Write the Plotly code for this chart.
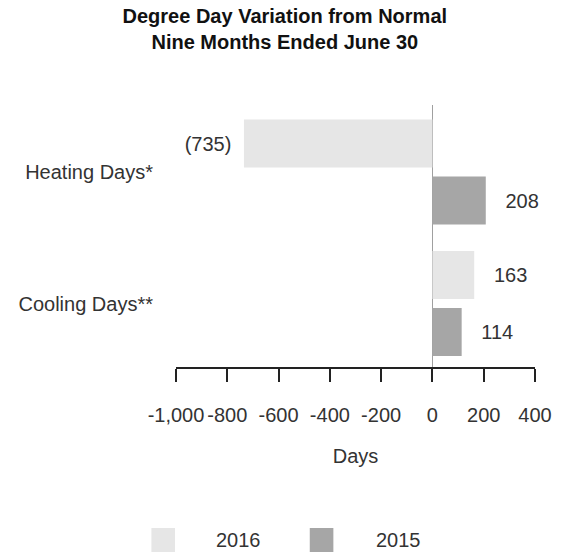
import plotly.graph_objects as go

# ---- data ----
categories = ["Heating Days*", "Cooling Days**"]
series_names = ["2016", "2015"]
values_2016 = [-735, 163]
values_2015 = [208, 114]
labels_2016 = ["(735)", "163"]
labels_2015 = ["208", "114"]
x_tickvals = [-1000, -800, -600, -400, -200, 0, 200, 400]
x_ticktext = ["-1,000", "-800", "-600", "-400", "-200", "0", "200", "400"]

# ---- style ----
FONT = "Liberation Sans, Arial, sans-serif"
C2016 = "#e6e6e6"
C2015 = "#a6a6a6"
TXT = "#333333"
W, H = 564, 552
L, R, T, B = 176, 23, 105, 185
PW, PH = W - L - R, H - T - B

def pad(lbl, v):
    if v < 0:
        return lbl + "\u00a0\u2009"
    return "\u00a0\u00a0\u00a0" + lbl

def px_x(px):
    return (px - L) / PW

def px_y(py):
    return (H - B - py) / PH

fig = go.Figure()
for name, vals, labs, col in [("2016", values_2016, labels_2016, C2016),
                              ("2015", values_2015, labels_2015, C2015)]:
    fig.add_trace(go.Bar(
        name=name, orientation="h", x=vals, y=categories,
        marker=dict(color=col, line=dict(width=0)),
        text=[pad(t, v) for t, v in zip(labs, vals)],
        textposition="outside", constraintext="none", cliponaxis=False,
        textfont=dict(family=FONT, size=20, color=TXT),
        hoverinfo="skip", showlegend=False,
    ))

fig.update_layout(
    width=W, height=H,
    margin=dict(l=L, r=R, t=T, b=B, pad=0),
    paper_bgcolor="white", plot_bgcolor="white",
    barmode="group", bargap=0.133, bargroupgap=0.158,
    font=dict(family=FONT, size=20, color=TXT),
    title=dict(
        text="<b>Degree Day Variation from Normal<br>Nine Months Ended June 30</b>",
        x=0.505, xanchor="center", xref="container",
        y=1 - 22.5 / H, yanchor="top", yref="container",
        font=dict(family=FONT, size=20, color="#111111"),
    ),
    hovermode=False,
)

fig.update_xaxes(
    range=[-1000, 400], tickvals=x_tickvals, ticktext=x_ticktext,
    showline=True, linecolor="#222222", linewidth=2,
    ticks="outside", ticklen=13, tickwidth=2, tickcolor="#222222",
    showgrid=False, zeroline=True, zerolinecolor="#a0a0a0", zerolinewidth=1.5,
    tickfont=dict(family=FONT, size=20, color=TXT),
    ticklabelstandoff=16,
    title=dict(text="Days", font=dict(family=FONT, size=20, color=TXT), standoff=24),
    fixedrange=True,
)
fig.update_yaxes(
    type="category", categoryorder="array", categoryarray=categories,
    range=[1.483, -0.51], showline=False, showgrid=False, zeroline=False,
    ticks="", ticklabelstandoff=22,
    tickfont=dict(family=FONT, size=20, color=TXT),
    fixedrange=True,
)

# legend (swatches + labels)
legend_items = [(series_names[0], C2016, 151, 240), (series_names[1], C2015, 312, 402)]
for name, col, sx, tx in legend_items:
    fig.add_shape(type="rect", xref="paper", yref="paper",
                  x0=px_x(sx), x1=px_x(sx + 24), y0=px_y(528), y1=px_y(552),
                  fillcolor=col, line=dict(width=0))
    fig.add_annotation(xref="paper", yref="paper", x=px_x(tx), y=px_y(540),
                       text=name, showarrow=False, xanchor="center", yanchor="middle",
                       font=dict(family=FONT, size=20, color=TXT))

fig.write_html("out.html", config={"displayModeBar": False, "staticPlot": True},
               post_script="document.body.style.margin='0';document.body.style.overflow='hidden';")
